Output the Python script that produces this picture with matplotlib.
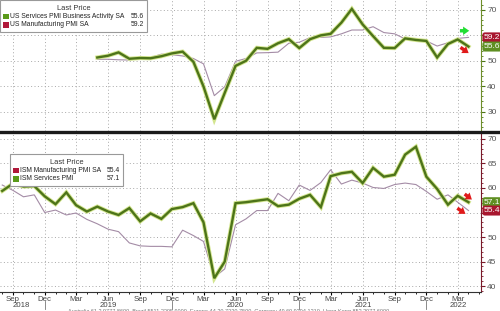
import numpy as np
import pandas as pd
import matplotlib
matplotlib.use('Agg')
import matplotlib.pyplot as plt
import matplotlib.dates as mdates
import matplotlib.transforms as mtransforms
from matplotlib.patches import Rectangle
from matplotlib.lines import Line2D

# monthly points, Aug 2018 .. Apr 2022
months = pd.date_range('2018-08-01', '2022-04-01', freq='MS')

nan = np.nan
us_services = [nan] * 9 + [
    51.3, 52.0, 53.3, 50.8, 51.1, 51.0, 51.8, 52.9,
    53.6, 49.6, 39.9, 27.0, 37.4, 48.0, 50.0, 55.1, 54.7, 56.9, 58.5, 55.0,
    58.5, 60.0, 60.6, 65.0, 70.4, 64.3, 59.7, 55.1, 55.0, 58.8, 58.2, 57.8,
    51.3, 56.6, 58.4, 55.6]
us_manufacturing = [nan] * 9 + [
    50.6, 50.6, 50.4, 50.3, 51.1, 51.3, 52.6, 52.4,
    51.9, 50.9, 48.8, 36.3, 39.8, 49.8, 50.9, 53.1, 53.2, 53.4, 56.9, 57.3,
    59.1, 59.2, 59.4, 60.6, 62.1, 62.1, 63.4, 61.1, 60.6, 58.6, 58.2, 57.8,
    55.8, 57.1, 58.8, 59.2]
ism_services = [
    59.4, 60.9, 60.3, 60.4, 58.3,
    56.7, 59.1, 56.5, 55.2, 56.2, 55.2, 54.5, 55.9, 53.2, 54.8, 53.7, 55.7,
    56.1, 56.9, 53.0, 41.6, 45.0, 56.9, 57.1, 57.4, 57.7, 56.3, 56.6, 57.8,
    58.6, 56.1, 62.4, 63.0, 63.3, 61.0, 64.1, 62.3, 62.7, 66.8, 68.4, 62.3,
    59.8, 56.6, 58.4, 57.1]
ism_manufacturing = [
    60.6, 59.5, 58.2, 58.6, 55.0,
    55.5, 54.5, 54.9, 53.6, 52.7, 51.6, 51.1, 48.8, 48.2, 48.1, 48.1, 48.0,
    51.4, 50.3, 49.1, 41.8, 43.5, 52.5, 53.7, 55.4, 55.4, 58.9, 57.4, 60.6,
    59.5, 61.1, 63.7, 60.8, 61.6, 61.0, 60.1, 59.9, 60.7, 61.0, 60.7, 59.3,
    57.7, 58.6, 57.1, 55.4]

top_ticks = [30, 40, 50, 60, 70]
top_labels = ['30', '40', '50', '', '70']  # 60 sits under the value boxes
bottom_ticks = [40, 45, 50, 55, 60, 65, 70]
bottom_labels = ['40', '45', '50', '', '60', '65', '70']

GREEN = '#4d7419'
GLOW = '#d3e58f'
THIN = '#a48ca6'
RED_BOX = '#a8172f'
GREEN_BOX = '#5f8f22'
GRID = '#a8a8a8'
plt.rcParams['font.family'] = ['Liberation Sans', 'DejaVu Sans']

W, H = 500, 311
fig = plt.figure(figsize=(5, 3.11), dpi=100)


def px(x, y):
    return x / W, 1 - y / H


def mdate(m):
    # fractional month offset from Sep 2018
    return pd.Timestamp('2018-09-01') + pd.Timedelta(days=30.44 * m)


ax1 = fig.add_axes([0, 1 - 131 / H, 481 / W, 131 / H])
ax2 = fig.add_axes([0, 1 - 292 / H, 481 / W, 158 / H])

xlim = (mdate(-1.23), mdate(44.15))

for ax in (ax1, ax2):
    ax.set_xlim(*xlim)
    ax.spines['left'].set_visible(False)
    ax.spines['top'].set_visible(False)
    ax.yaxis.tick_right()
    ax.xaxis.set_major_locator(mdates.MonthLocator(bymonth=[3, 6, 9, 12]))
    ax.xaxis.set_minor_locator(mdates.MonthLocator())
    ax.grid(True, which='major', color=GRID, linestyle=(0, (1, 2.5)), linewidth=0.7)
    ax.tick_params(axis='y', which='both', direction='out', labelsize=6,
                   labelcolor='#555555', pad=1.5)
    ax.set_axisbelow(True)

# top panel
ax1.plot(months, us_manufacturing, color=THIN, lw=0.8)
ax1.plot(months, us_services, color=GLOW, lw=3.0, solid_joinstyle='miter')
ax1.plot(months, us_services, color=GREEN, lw=1.7, solid_joinstyle='miter')
ax1.set_ylim(22.4, 73.9)
ax1.set_yticks(top_ticks)
ax1.set_yticklabels(top_labels)
ax1.set_yticks(np.arange(24, 74, 2), minor=True)
ax1.tick_params(axis='y', which='major', length=3, color=GREEN)
ax1.tick_params(axis='y', which='minor', length=1.5, color=GREEN)
ax1.spines['right'].set_color('#6f8f2a')
ax1.spines['bottom'].set_visible(False)
ax1.tick_params(axis='x', which='both', bottom=False, labelbottom=False)

# bottom panel
ax2.plot(months, ism_manufacturing, color=THIN, lw=0.8)
ax2.plot(months, ism_services, color=GLOW, lw=3.0, solid_joinstyle='miter')
ax2.plot(months, ism_services, color=GREEN, lw=1.7, solid_joinstyle='miter')
ax2.set_ylim(38.8, 71.0)
ax2.set_yticks(bottom_ticks)
ax2.set_yticklabels(bottom_labels)
ax2.set_yticks(np.arange(39, 71, 1), minor=True)
ax2.tick_params(axis='y', which='major', length=3, color='#7a1a2a')
ax2.tick_params(axis='y', which='minor', length=1.5, color='#7a1a2a')
ax2.spines['right'].set_color('#7a1a2a')
ax2.spines['bottom'].set_color('#333333')
ax2.xaxis.set_major_formatter(mdates.DateFormatter('%b'))
ax2.tick_params(axis='x', which='major', length=2, labelsize=5.6,
                labelcolor='#444444', pad=0.6)
ax2.tick_params(axis='x', which='minor', length=1.5)

# year labels and separators
years = [('2018', 0.8), ('2019', 9), ('2020', 21), ('2021', 33), ('2022', 42)]
trans = mtransforms.blended_transform_factory(ax2.transData, fig.transFigure)
for label, m in years:
    ax2.text(mdates.date2num(mdate(m)), 1 - 305.5 / H, label, transform=trans,
             ha='center', va='center', fontsize=5.6, color='#444444')
for m in [3, 15, 27, 39]:
    x = mdates.date2num(mdate(m))
    fig.add_artist(Line2D([x, x], [1 - 301 / H, 1 - 309 / H], transform=trans,
                          color='#777777', lw=0.6))

# separator between panels
fig.add_artist(Line2D([0, 1], [1 - 132 / H, 1 - 132 / H], color='#1a1a1a', lw=2.4,
                      transform=fig.transFigure))


# last value boxes on the right axis
def value_box(ax, value, color):
    tr = mtransforms.blended_transform_factory(ax.transAxes, ax.transData)
    ax.text(1.006, value, f'{value:.1f}', transform=tr, ha='left', va='center',
            fontsize=6, color='white', clip_on=False,
            bbox=dict(boxstyle='round,pad=0.18,rounding_size=0.3', fc=color, ec='none'))


value_box(ax1, us_manufacturing[-1], RED_BOX)
value_box(ax1, us_services[-1], GREEN_BOX)
value_box(ax2, ism_services[-1], GREEN_BOX)
value_box(ax2, ism_manufacturing[-1], RED_BOX)


# trend arrows
def arrow(ax, m0, v0, m1, v1, color):
    ax.annotate('', xy=(mdate(m1), v1), xytext=(mdate(m0), v0),
                arrowprops=dict(arrowstyle='simple,head_width=1.1,head_length=0.8,tail_width=0.45',
                                fc=color, ec='none', mutation_scale=5.5))


arrow(ax1, 41.9, 61.8, 43.3, 61.8, '#22dd33')
arrow(ax1, 42.0, 55.9, 43.2, 52.4, '#e01a1a')
arrow(ax2, 42.4, 59.1, 43.5, 57.3, '#e01a1a')
arrow(ax2, 41.7, 56.2, 42.9, 54.4, '#e01a1a')


# legend boxes
def legend_box(x0, y0, x1, y1, entries, value_x):
    l, b = px(x0, y1)
    r, t = px(x1, y0)
    fig.add_artist(Rectangle((l, b), r - l, t - b, transform=fig.transFigure,
                             fc='white', ec='#999999', lw=0.8, zorder=5))
    tx, ty = px((x0 + x1) / 2, y0 + 8)
    fig.text(tx, ty, 'Last Price', ha='center', va='center', fontsize=5.4,
             color='#333333', zorder=6)
    for i, (label, value, color) in enumerate(entries):
        yy = y0 + 16.5 + 8.2 * i
        sl, sb = px(x0 + 3, yy + 2.8)
        fig.add_artist(Rectangle((sl, sb), 5.5 / W, 5.5 / H, transform=fig.transFigure,
                                 fc=color, ec='none', zorder=6))
        lx, ly = px(x0 + 10.5, yy)
        fig.text(lx, ly, label, ha='left', va='center', fontsize=4.9,
                 color='#222222', zorder=6)
        vx, vy = px(value_x, yy)
        fig.text(vx, vy, f'{value:.1f}', ha='right', va='center', fontsize=4.9,
                 color='#222222', zorder=6)


legend_box(0, 0, 147, 32,
           [('US Services PMI Business Activity SA', us_services[-1], '#5a9a1a'),
            ('US Manufacturing PMI SA', us_manufacturing[-1], '#b0183a')], 144)
legend_box(10, 154, 123, 186,
           [('ISM Manufacturing PMI SA', ism_manufacturing[-1], '#b0183a'),
            ('ISM Services PMI', ism_services[-1], '#5a9a1a')], 120)

# source footer (cut off at the bottom edge in the original)
fig.text(68 / W, 1 - 309.5 / H,
         'Australia 61 2 9777 8600  Brazil 5511 2395 9000  Europe 44 20 7330 7500  '
         'Germany 49 69 9204 1210  Hong Kong 852 2977 6000',
         fontsize=4.0, color='#777777', ha='left', va='top')

fig.savefig('out.png', dpi=100)
